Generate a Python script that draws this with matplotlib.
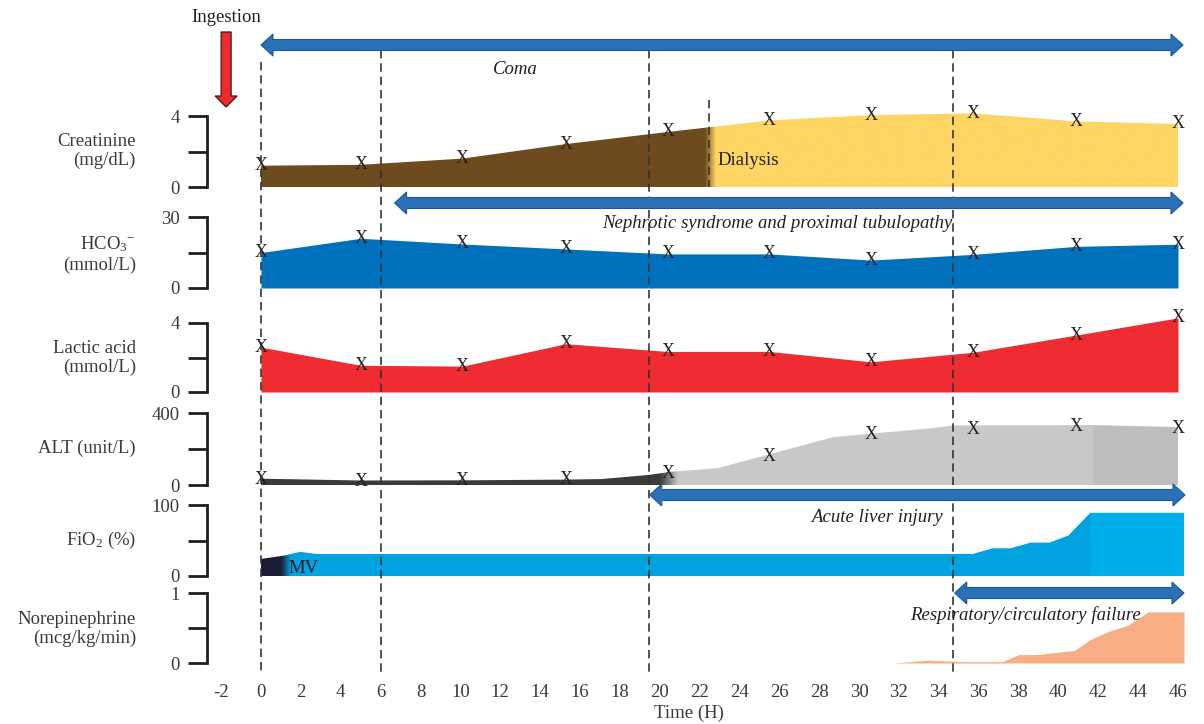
import numpy as np
import matplotlib
matplotlib.use("Agg")
import matplotlib.pyplot as plt
from matplotlib.patches import Polygon
from matplotlib.colors import to_rgba

plt.rcParams['font.family'] = ['Liberation Serif', 'DejaVu Serif']
plt.rcParams['mathtext.fontset'] = 'custom'
plt.rcParams['mathtext.rm'] = 'Liberation Serif'
plt.rcParams['mathtext.it'] = 'Liberation Serif:italic'

# ---------------- data ----------------
sample_t = [0, 5, 10.1, 15.3, 20.4, 25.5, 30.6, 35.7, 40.9, 46]
creatinine = [1.2, 1.25, 1.6, 2.42, 3.1, 3.75, 4.05, 4.15, 3.7, 3.55]
hco3 = [15, 21, 18.6, 16.5, 14.4, 14.4, 11.8, 14.2, 17.6, 18.5]
lactic = [2.6, 1.55, 1.5, 2.8, 2.35, 2.35, 1.75, 2.3, 3.3, 4.3]

alt_marks = [32, 22, 26, 32, 65, 158, 279, 311, 326, 313]
alt_t = [0, 5, 10.1, 15.3, 17.1, 19.45, 20.6, 22.9, 28.7, 33.7, 34.7, 41.7, 46]
alt_v = [35, 25, 26, 30, 33, 56, 74, 93, 266, 316, 331, 333, 322]

fio2_t = [0, 1.2, 1.95, 2.8, 35.7, 36.7, 37.6, 38.6, 39.55, 40.5, 41.6, 46.3]
fio2_v = [24, 29, 34, 31, 31, 39, 39, 47, 47, 57, 89, 89]

norepi_t = [31.7, 33.45, 35.2, 37.2, 38.0, 38.9, 40.8, 41.7, 42.6, 43.5, 44.5, 46.3]
norepi_v = [0, 0.04, 0.02, 0.02, 0.12, 0.12, 0.18, 0.35, 0.46, 0.54, 0.73, 0.73]

event_t = [0, 6, 19.45, 34.7]
dialysis_t = 22.45
ingestion_t = -1.75
phases = [
    ("Coma", 0, 46.25),
    ("Nephrotic syndrome and proximal tubulopathy", 6.7, 46.25),
    ("Acute liver injury", 19.5, 46.35),
    ("Respiratory/circulatory failure", 34.8, 46.3),
]
x_ticks = list(range(-2, 47, 2))

# ---------------- layout ----------------
W, H = 1204, 724
X0_PX, PX_PER_H = 261, 19.935
AX_L, AX_R = 207, 1194
XLIM = ((AX_L - X0_PX) / PX_PER_H, (AX_R - X0_PX) / PX_PER_H)
HPX = 1 / PX_PER_H
INK = '#231f20'
GREY_TXT = '#3a3a3a'
FS = 13.5

fig = plt.figure(figsize=(W / 100, H / 100), dpi=100)
fig.patch.set_facecolor('white')


def fmt(v):
    return f"{v:g}"


def panel(py0, py1, top, label, label_y, pad_top=16, pad_bot=3):
    ppu = (py0 - py1) / top
    yb, yt = py0 + pad_bot, py1 - pad_top
    ax = fig.add_axes([AX_L / W, 1 - yb / H, (AX_R - AX_L) / W, (yb - yt) / H])
    ax.set_xlim(XLIM)
    ax.set_ylim(-pad_bot / ppu, top + pad_top / ppu)
    ax.patch.set_alpha(0)
    for s in ('top', 'right', 'bottom'):
        ax.spines[s].set_visible(False)
    ax.spines['left'].set_bounds(0, top)
    ax.spines['left'].set_linewidth(2.0)
    ax.spines['left'].set_color(INK)
    ax.set_yticks([0, top / 2, top])
    ax.set_yticklabels([fmt(0), '', fmt(top)])
    ax.tick_params(axis='y', length=13.5, width=2.0, pad=6, labelsize=FS,
                   color=INK, labelcolor=GREY_TXT)
    ax.set_xticks([])
    fig.text(136 / W, 1 - label_y / H, label, ha='right', va='center',
             fontsize=FS, color=GREY_TXT, linespacing=1.2)
    return ax


def gradient_fill(ax, t, v, stops):
    verts = [(t[0], 0)] + list(zip(t, v)) + [(t[-1], 0)]
    poly = Polygon(verts, closed=True, facecolor='none', edgecolor='none')
    ax.add_patch(poly)
    xs = np.linspace(t[0], t[-1], 2000)
    sp = [s[0] for s in stops]
    cols = np.array([to_rgba(s[1]) for s in stops])
    rgba = np.stack([np.interp(xs, sp, cols[:, k]) for k in range(4)], axis=-1)
    im = ax.imshow(rgba[None, :, :], extent=(t[0], t[-1], 0, max(v)),
                   aspect='auto', origin='lower', interpolation='bilinear', zorder=2)
    im.set_clip_path(poly)


def marks(ax, t, v):
    for ti, vi in zip(t, v):
        ax.text(ti, vi, 'X', ha='center', va='center', fontsize=13,
                color=INK, zorder=5)


# Creatinine
ax1 = panel(187, 116, 4, "Creatinine\n(mg/dL)", 151)
gradient_fill(ax1, sample_t, creatinine,
              [(0, '#6e4b1e'), (22.25, '#6e4b1e'), (22.8, '#fed563'), (46, '#fed563')])
marks(ax1, sample_t, creatinine)
ax1.text(22.9, 1.5, "Dialysis", ha='left', va='center', fontsize=FS, color=INK, zorder=5)

# Bicarbonate
ax2 = panel(288, 217, 30, "HCO$_3$$^{-}$\n(mmol/L)", 254)
ax2.fill_between(sample_t, 0, hco3, color='#0071bc', lw=0, zorder=2)
marks(ax2, sample_t, hco3)

# Lactic acid
ax3 = panel(392, 323, 4, "Lactic acid\n(mmol/L)", 358)
ax3.fill_between(sample_t, 0, lactic, color='#ee2c32', lw=0, zorder=2)
marks(ax3, sample_t, lactic)

# ALT
ax4 = panel(485, 413, 400, "ALT (unit/L)", 448)
gradient_fill(ax4, alt_t, alt_v,
              [(0, '#3d3a39'), (20.0, '#3d3a39'), (20.9, '#c9c8c7'),
               (41.7, '#c9c8c7'), (41.72, '#bebebe'), (46, '#bebebe')])
marks(ax4, sample_t, alt_marks)

# FiO2
ax5 = panel(576, 505, 100, "FiO$_2$ (%)", 540)
gradient_fill(ax5, fio2_t, fio2_v,
              [(0, '#1b1d36'), (1.0, '#1b1d36'), (1.5, '#00a3e0'),
               (41.6, '#00a3e0'), (41.62, '#00afea'), (46.3, '#00afea')])
ax5.text(1.4, 10, "MV", ha='left', va='center', fontsize=FS, color=INK, zorder=5)

# Norepinephrine
ax6 = panel(663, 593, 1, "Norepinephrine\n(mcg/kg/min)", 629)
ax6.fill_between(norepi_t, 0, norepi_v, color='#f7ae84', lw=0, zorder=2)
ax6.set_xticks(x_ticks)
ax6.set_xticklabels([str(x) for x in x_ticks])
ax6.tick_params(axis='x', length=0, pad=13, labelsize=FS, labelcolor=GREY_TXT)

# ---------------- overlay: events, phases, annotations ----------------
ov = fig.add_axes([AX_L / W, 0, (AX_R - AX_L) / W, 1])
ov.set_xlim(XLIM)
ov.set_ylim(H, 0)
ov.axis('off')
ov.patch.set_alpha(0)

ov.vlines(event_t, [62, 50, 50, 50], 672, colors='#333333',
          linestyles=(0, (5, 3)), lw=1.2, zorder=3)
ov.vlines([dialysis_t], 100, 187, colors='#333333',
          linestyles=(0, (5, 3)), lw=1.2, zorder=3)


def double_arrow(t0, t1, yc, sh=5.5, hh=11, hl=12):
    hx = hl * HPX
    pts = [(t0, yc), (t0 + hx, yc - hh), (t0 + hx, yc - sh), (t1 - hx, yc - sh),
           (t1 - hx, yc - hh), (t1, yc), (t1 - hx, yc + hh), (t1 - hx, yc + sh),
           (t0 + hx, yc + sh), (t0 + hx, yc + hh)]
    ov.add_patch(Polygon(pts, closed=True, fc='#2a71b8', ec='#1b5995',
                         lw=0.8, zorder=4))


arrow_y = [45, 203, 495, 593]
label_pos = [(515, 70), (777, 223), (877, 517), (1025, 615)]
for (name, t0, t1), yc, (lx, ly) in zip(phases, arrow_y, label_pos):
    double_arrow(t0, t1, yc)
    ov.text((lx - X0_PX) / PX_PER_H, ly, name, ha='center', va='center',
            fontsize=FS, style='italic', color=INK, zorder=5)

# Ingestion marker
sw, hw, hl = 5 * HPX, 11 * HPX, 11
y_top, y_tip = 32, 107
ing = [(ingestion_t - sw, y_top), (ingestion_t + sw, y_top),
       (ingestion_t + sw, y_tip - hl), (ingestion_t + hw, y_tip - hl),
       (ingestion_t, y_tip), (ingestion_t - hw, y_tip - hl),
       (ingestion_t - sw, y_tip - hl)]
ov.add_patch(Polygon(ing, closed=True, fc='#ee2a2e', ec='#3a1a1a', lw=0.9, zorder=4))
ov.text(ingestion_t, 17, "Ingestion", ha='center', va='center', fontsize=FS, color=INK)

ov.text((689 - X0_PX) / PX_PER_H, 713, "Time (H)", ha='center', va='center',
        fontsize=FS, color=GREY_TXT)

fig.savefig("out.png", dpi=100)
